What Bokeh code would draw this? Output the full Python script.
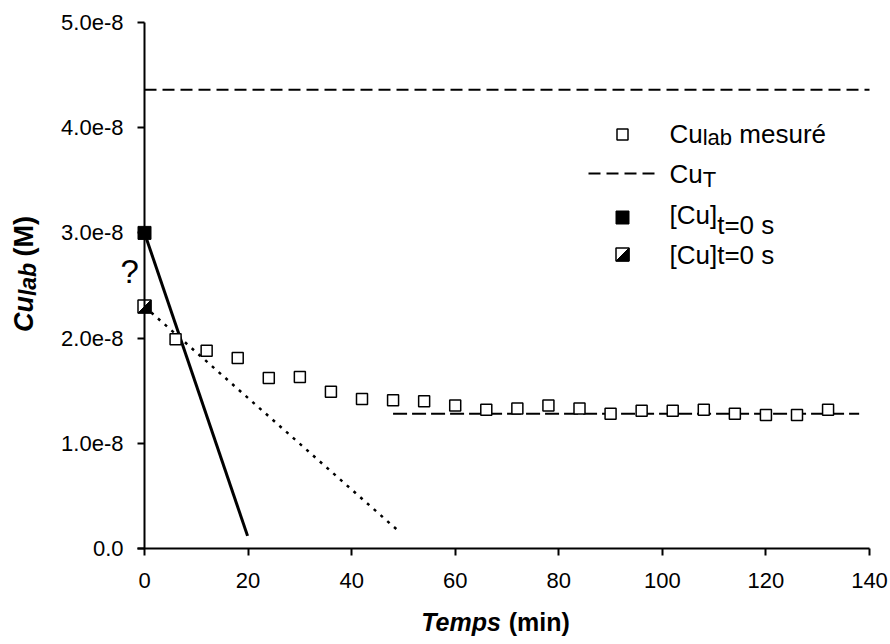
import math
from bokeh.plotting import figure
from bokeh.models import Range1d, FixedTicker, CustomJSTickFormatter, Label
from bokeh.embed import file_html
from bokeh.resources import INLINE

# ---------------- data ----------------
time_min = [6, 12, 18, 24, 30, 36, 42, 48, 54, 60, 66, 72, 78, 84, 90, 96, 102, 108, 114, 120, 126, 132]
cu_lab = [1.99e-8, 1.88e-8, 1.81e-8, 1.62e-8, 1.63e-8, 1.49e-8, 1.42e-8, 1.41e-8, 1.40e-8, 1.36e-8, 1.32e-8,
          1.33e-8, 1.36e-8, 1.33e-8, 1.28e-8, 1.31e-8, 1.31e-8, 1.32e-8, 1.28e-8, 1.27e-8, 1.27e-8, 1.32e-8]
cu_total_t = [0, 140]
cu_total_v = [4.36e-8, 4.36e-8]
plateau_t = [48, 138]
plateau_v = [1.28e-8, 1.28e-8]
solid_t = [0, 19.9]
solid_v = [3.0e-8, 0.12e-8]
dotted_t = [0, 49.2]
dotted_v = [2.3e-8, 0.16e-8]
cu0_filled_t = [0]
cu0_filled_v = [3.0e-8]
cu0_half_t = [0]
cu0_half_v = [2.3e-8]
x_ticks = [0, 20, 40, 60, 80, 100, 120, 140]
y_ticks = [0, 1e-8, 2e-8, 3e-8, 4e-8, 5e-8]

# ---------------- geometry (frame covers the whole canvas) ----------------
W, H = 890, 644
AX_X0, AX_X1 = 144, 869      # canvas px of x = 0 and x = 140
AX_Y0, AX_Y1 = 548, 22       # canvas px of y = 0 and y = 5e-8
SX = (AX_X1 - AX_X0) / 140.0
SY = (AX_Y0 - AX_Y1) / 5e-8
X_START = -AX_X0 / SX
X_END = (W - AX_X0) / SX
Y_START = -(H - AX_Y0) / SY
Y_END = AX_Y0 / SY


def dx(px):
    return X_START + px / SX


def dy(py):
    return (AX_Y0 - py) / SY


REG = {'C': 722, 'u': 556, 'l': 222, 'a': 556, 'b': 556, ' ': 278, 'm': 833, 'e': 556, 's': 500,
       'r': 333, 'é': 556, 'T': 611, '[': 278, ']': 278, 't': 278, '=': 584, '0': 556}
BOLD = {'T': 611, 'e': 556, 'm': 889, 'p': 611, 's': 556, ' ': 278, '(': 333, 'i': 278, 'n': 611,
        ')': 333, 'C': 722, 'u': 611, 'l': 278, 'a': 556, 'b': 611, 'M': 833}


def tw(s, size, bold=False):
    t = BOLD if bold else REG
    return sum(t.get(c, 556) for c in s) / 1000.0 * size


FONT = "Liberation Sans"

p = figure(width=W, height=H, output_backend="svg", toolbar_location=None,
           x_range=Range1d(X_START, X_END), y_range=Range1d(Y_START, Y_END),
           min_border=0, min_border_left=0, min_border_right=0, min_border_top=0, min_border_bottom=0)
p.title.visible = False
p.outline_line_color = None
p.xgrid.visible = False
p.ygrid.visible = False
p.background_fill_color = "white"
p.border_fill_color = "white"

for ax in (p.xaxis[0], p.yaxis[0]):
    ax.axis_line_color = "black"
    ax.axis_line_width = 2
    ax.major_tick_line_color = "black"
    ax.major_tick_line_width = 2
    ax.major_tick_out = 7
    ax.major_tick_in = 0
    ax.minor_tick_line_color = None
    ax.major_label_text_font = FONT
    ax.major_label_text_font_size = "22px"
    ax.major_label_text_color = "black"
    ax.fixed_location = 0

p.xaxis.ticker = FixedTicker(ticks=x_ticks)
p.yaxis.ticker = FixedTicker(ticks=y_ticks)
p.xaxis.bounds = (dx(137), 140)
p.yaxis.bounds = (0, 5e-8)
p.xaxis.major_label_standoff = 17
p.yaxis.major_label_standoff = 14
p.yaxis.formatter = CustomJSTickFormatter(
    code="if (Math.abs(tick) < 1e-20) { return '0.0'; } return tick.toExponential(1);")

# ---------------- glyphs ----------------
p.line(cu_total_t, cu_total_v, line_color="black", line_width=2, line_dash="12 6")
p.line(plateau_t, plateau_v, line_color="black", line_width=2, line_dash="14 5")
p.line(solid_t, solid_v, line_color="black", line_width=3)
p.line(dotted_t, dotted_v, line_color="black", line_width=2.5, line_dash="3 6")
p.scatter(time_min, cu_lab, marker="square", size=11, fill_color="white",
          line_color="black", line_width=1.5)
p.scatter(cu0_filled_t, cu0_filled_v, marker="square", size=13, fill_color="black",
          line_color="black", line_width=1)


def half_square(cx, cy, size):
    hx = size / 2.0 / SX
    hy = size / 2.0 / SY
    p.scatter([cx], [cy], marker="square", size=size, fill_color="white",
              line_color="black", line_width=1.5)
    p.patch([cx + hx, cx + hx, cx - hx], [cy + hy, cy - hy, cy - hy],
            fill_color="black", line_color="black", line_width=1)


half_square(cu0_half_t[0], cu0_half_v[0], 13)


def add_text(text, px, py, size, style="normal", angle=0.0, align="left"):
    # (px, py): left end of the text and vertical middle of its capitals, in canvas pixels
    p.add_layout(Label(x=dx(px), y=dy(py), text=text, text_font=FONT,
                       text_font_size=f"{size}px", text_font_style=style,
                       text_color="black", text_align=align,
                       text_baseline="middle", angle=angle))


# question mark
add_text("?", 120, 271, 33)

# ---------------- legend ----------------
LS, SS = 26, 22
TX = 669
# row 1
p.scatter([dx(622)], [dy(134)], marker="square", size=11, fill_color="white",
          line_color="black", line_width=1.5)
x = TX
add_text("Cu", x, 133, LS); x += tw("Cu", LS)
add_text("lab", x, 137, SS); x += tw("lab", SS) + tw(" ", LS)
add_text("mesuré", x, 133, LS)
# row 2
p.line([dx(588), dx(655)], [dy(173), dy(173)], line_color="black", line_width=2, line_dash="12 6")
x = TX
add_text("Cu", x, 173, LS); x += tw("Cu", LS)
add_text("T", x, 179, SS)
# row 3
p.scatter([dx(622)], [dy(217)], marker="square", size=13, fill_color="black", line_color="black")
x = TX
add_text("[Cu]", x, 214, LS); x += tw("[Cu]", LS)
add_text("t=0 s", x, 224, LS)
# row 4
half_square(dx(622), dy(254), 13)
add_text("[Cu]t=0 s", TX, 254, LS)

# ---------------- axis titles ----------------
TS = 25
total = tw("Temps (min)", TS, True)
x = 495 - total / 2.0
add_text("Temps", x, 621, TS, "bold italic"); x += tw("Temps ", TS, True)
add_text("(min)", x, 621, TS, "bold")

YS, YSS = 27, 23
total = tw("Cu", YS, True) + tw("lab", YSS, True) + tw(" (M)", YS, True)
y = 273 + total / 2.0
ang = math.pi / 2
add_text("Cu", 23, y, YS, "bold italic", angle=ang); y -= tw("Cu", YS, True)
add_text("lab", 27, y, YSS, "bold italic", angle=ang); y -= tw("lab ", YSS, True)
add_text("(M)", 23, y, YS, "bold", angle=ang)

html = file_html(p, INLINE)
open("out.html", "w").write(html)
